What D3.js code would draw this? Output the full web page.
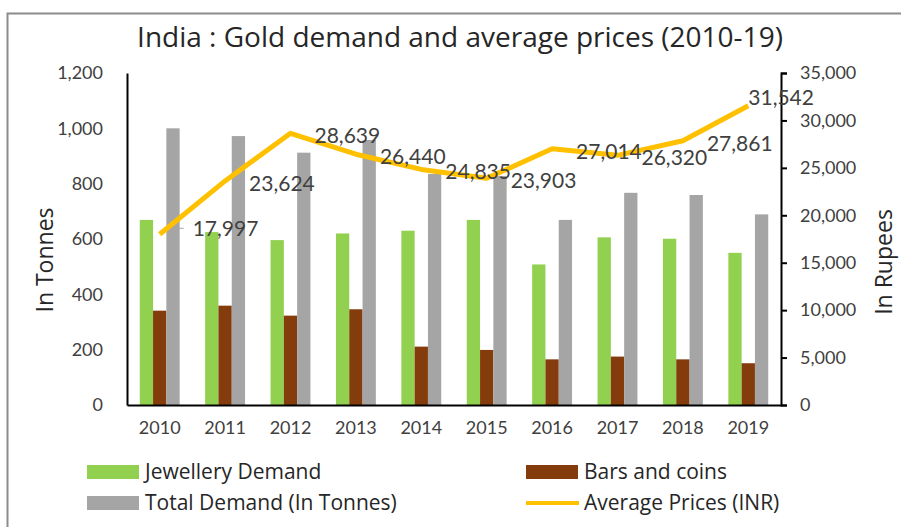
<!DOCTYPE html>
<html>
<head>
<meta charset='UTF-8'>
<title>India : Gold demand and average prices</title>
<script src='https://d3js.org/d3.v7.min.js'></script>
<style>
  body { margin: 0; background: #fff; }
  svg text { font-family: 'Open Sans', Lato, sans-serif; }
</style>
</head>
<body>
<div id='chart'></div>
<script>
// data
var years = ['2010', '2011', '2012', '2013', '2014', '2015', '2016', '2017', '2018', '2019'];
var jewellery = [669, 625, 596, 620, 630, 669, 508, 606, 601, 550];
var barsCoins = [341, 359, 323, 346, 211, 199, 165, 175, 165, 151];
var totalDemand = [1000, 972, 912, 958, 835, 828, 669, 767, 759, 689];
var avgPrice = [17997, 23624, 28639, 26440, 24835, 23903, 27014, 26320, 27861, 31542];
var leftTicks = [0, 200, 400, 600, 800, 1000, 1200];
var rightTicks = [0, 5000, 10000, 15000, 20000, 25000, 30000, 35000];

var W = 901, H = 527;
var plot = {left: 127, right: 781, top: 73, bottom: 405};

var svg = d3.select('#chart').append('svg')
    .attr('width', W)
    .attr('height', H);

// outer frame (cropped on right and bottom)
svg.append('path')
   .attr('d', 'M7.5,' + H + 'V13.5H' + W)
   .attr('fill', 'none')
   .attr('stroke', '#8c8c8c')
   .attr('stroke-width', 2);

svg.append('text')
   .attr('x', 460)
   .attr('y', 47)
   .attr('text-anchor', 'middle')
   .style('font-size', '28px')
   .style('fill', '#262626')
   .text('India : Gold demand and average prices (2010-19)');

var x = d3.scaleBand()
    .domain(years)
    .range([plot.left, plot.right])
    .paddingInner(0.39)
    .paddingOuter(0.195);

var series = ['jewellery', 'bars', 'total'];
var xSub = d3.scaleBand()
    .domain(series)
    .range([0, x.bandwidth()]);

var yL = d3.scaleLinear().domain([0, 1200]).range([plot.bottom, plot.top]);
var yR = d3.scaleLinear().domain([0, 35000]).range([plot.bottom, plot.top]);

var colors = {jewellery: '#92d050', bars: '#843c0c', total: '#a5a5a5', price: '#ffc000'};
var values = {jewellery: jewellery, bars: barsCoins, total: totalDemand};

series.forEach(function(s) {
    svg.append('g').selectAll('rect')
       .data(values[s])
       .enter()
       .append('rect')
       .attr('x', (d, i) => x(years[i]) + xSub(s))
       .attr('y', d => yL(d))
       .attr('width', xSub.bandwidth())
       .attr('height', d => yL(0) - yL(d))
       .style('fill', colors[s]);
});

// left axis
var gl = svg.append('g')
   .attr('transform', 'translate(' + plot.left + ',0)')
   .call(d3.axisLeft(yL).tickValues(leftTicks).tickSize(0).tickPadding(24).tickFormat(d3.format(',')));
gl.select('.domain').attr('stroke', '#000').attr('stroke-width', 2);
gl.selectAll('text').style('font-size', '18px').style('fill', '#404040').style('font-family', 'Lato');

// right axis
var gr = svg.append('g')
   .attr('transform', 'translate(' + plot.right + ',0)')
   .call(d3.axisRight(yR).tickValues(rightTicks).tickSizeInner(6).tickSizeOuter(6).tickPadding(13).tickFormat(d3.format(',')));
gr.select('.domain').attr('stroke', '#000').attr('stroke-width', 2);
gr.selectAll('line').attr('stroke', '#000').attr('stroke-width', 2);
gr.selectAll('text').style('font-size', '18px').style('fill', '#404040').style('font-family', 'Lato');

// bottom axis
var gb = svg.append('g')
   .attr('transform', 'translate(0,' + plot.bottom + ')')
   .call(d3.axisBottom(x).tickSize(0).tickPadding(16));
gb.select('.domain').attr('stroke', '#000').attr('stroke-width', 2);
gb.selectAll('text').style('font-size', '18px').style('fill', '#404040').style('font-family', 'Lato');

// price line
var cx = (d, i) => x(years[i]) + x.bandwidth() / 2;
var line = d3.line()
    .x(cx)
    .y(d => yR(d));

svg.append('path')
   .datum(avgPrice)
   .attr('d', line)
   .attr('fill', 'none')
   .attr('stroke', colors.price)
   .attr('stroke-width', 5)
   .attr('stroke-linejoin', 'round');

// data labels
var last = avgPrice.length - 1;
svg.append('line')
   .attr('x1', cx(avgPrice[0], 0) + 13)
   .attr('x2', cx(avgPrice[0], 0) + 24)
   .attr('y1', yR(avgPrice[0]) - 6)
   .attr('y2', yR(avgPrice[0]) - 6)
   .attr('stroke', '#a6a6a6')
   .attr('stroke-width', 1);

svg.append('g').selectAll('text')
   .data(avgPrice)
   .enter()
   .append('text')
   .attr('x', (d, i) => cx(d, i) + (i === 0 ? 33 : i === last ? 0 : 24))
   .attr('y', (d, i) => yR(d) + (i === 0 ? -6 : i === last ? -8 : 2.5))
   .attr('dy', '0.35em')
   .style('font-size', '21px')
   .style('font-family', 'Lato')
   .style('fill', '#404040')
   .text(d => d3.format(',')(d));

// axis titles
svg.append('text')
   .attr('transform', 'translate(53,260) rotate(-90)')
   .attr('text-anchor', 'middle')
   .style('font-size', '23px')
   .style('fill', '#262626')
   .text('In Tonnes');

svg.append('text')
   .attr('transform', 'translate(892,262) rotate(-90)')
   .attr('text-anchor', 'middle')
   .style('font-size', '23px')
   .style('fill', '#262626')
   .text('In Rupees');

// legend
var legend = [
    {name: 'Jewellery Demand', key: 'jewellery', x: 87, y: 472},
    {name: 'Bars and coins', key: 'bars', x: 526, y: 472},
    {name: 'Total Demand (In Tonnes)', key: 'total', x: 87, y: 503},
    {name: 'Average Prices (INR)', key: 'price', x: 526, y: 503}
];

var lg = svg.append('g').selectAll('g')
   .data(legend)
   .enter()
   .append('g')
   .attr('transform', d => 'translate(' + d.x + ',' + d.y + ')');

lg.filter(d => d.key !== 'price')
  .append('rect')
  .attr('x', 0)
  .attr('y', -7)
  .attr('width', 52)
  .attr('height', 14)
  .style('fill', d => colors[d.key]);

lg.filter(d => d.key === 'price')
  .append('line')
  .attr('x1', 0)
  .attr('x2', 53)
  .attr('stroke', colors.price)
  .attr('stroke-width', 4);

lg.append('text')
  .attr('x', 58)
  .attr('dy', '0.35em')
  .style('font-size', '21px')
  .style('fill', '#262626')
  .text(d => d.name);
</script>
</body>
</html>
